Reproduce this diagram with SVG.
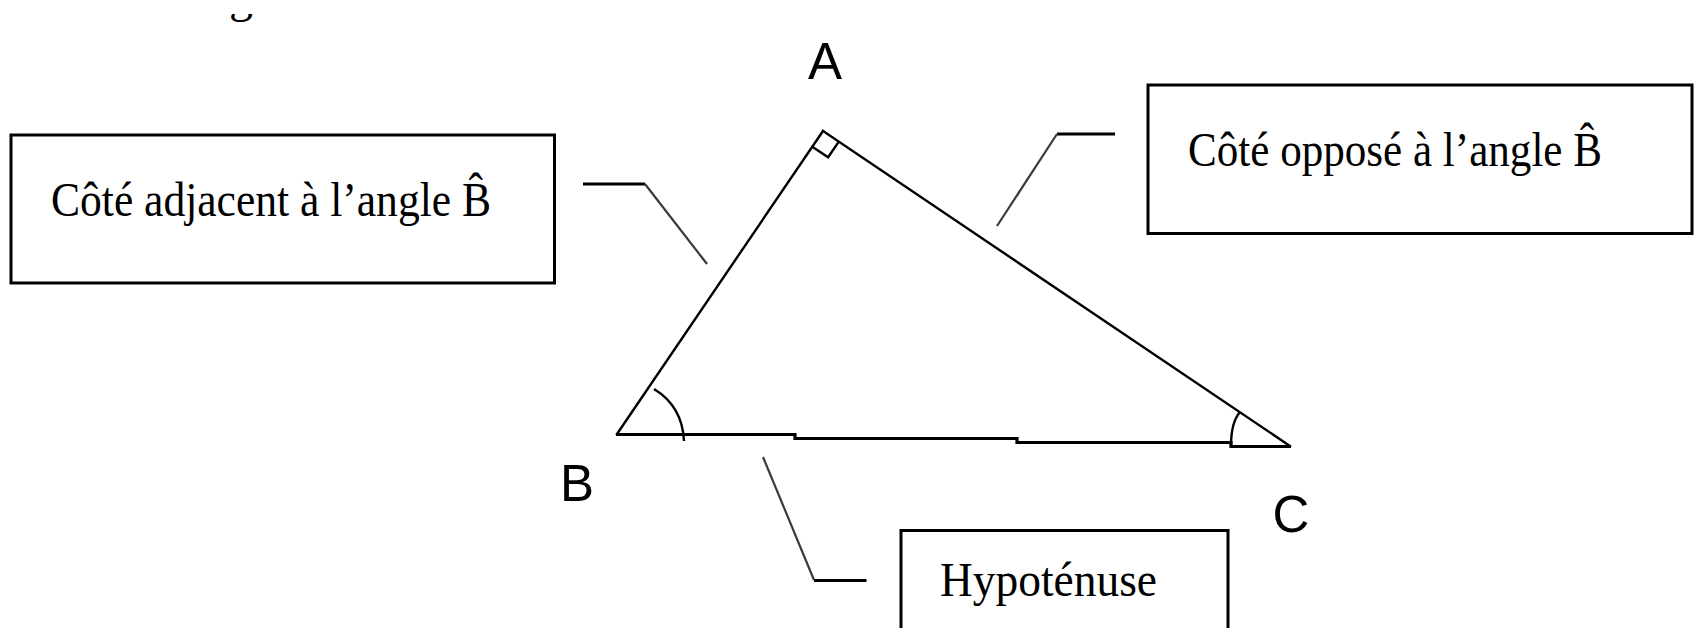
<svg xmlns="http://www.w3.org/2000/svg" width="1696" height="628" viewBox="0 0 1696 628">
<style>
.box{fill:#fff;stroke:#000;stroke-width:3}
.lbl{font-family:"Liberation Serif","Times New Roman",serif;font-size:48px;fill:#000}
.pt{font-family:"Liberation Sans",Arial,sans-serif;font-size:51px;fill:#000;text-anchor:middle}
.tri{fill:none;stroke:#000;stroke-width:2.4;stroke-linecap:square}
.base{fill:none;stroke:#000;stroke-width:3.2}
.mark{fill:none;stroke:#000;stroke-width:2.4}
.lead-h{fill:none;stroke:#000;stroke-width:3}
.lead-d{fill:none;stroke:#3a3a3a;stroke-width:2.2}
</style>
<defs>
<clipPath id="clipg"><rect x="200" y="14" width="80" height="20"/></clipPath>
</defs>
<rect width="1696" height="628" fill="#fff"/>
<text class="lbl" x="229" y="12" clip-path="url(#clipg)">g</text>

<g id="triangle">
<line class="tri" x1="823" y1="131" x2="617" y2="434"/>
<line class="tri" x1="823" y1="131" x2="1290" y2="446"/>
<polyline class="base" points="616,434.5 795,434.5 795,438.5 1017,438.5 1017,442.5 1231,442.5 1231,446.5 1291,446.5"/>
<polyline class="mark" points="812.3,146.7 828.1,157.3 838.8,141.6"/>
<path class="mark" d="M 654 389 C 672 400 683 418 684 441"/>
<path class="mark" d="M 1231 446 C 1231 432 1233 420 1240 412"/>
</g>

<g id="vertex-A"><text class="pt" x="825" y="79">A</text></g>
<g id="vertex-B"><text class="pt" x="577" y="501">B</text></g>
<g id="vertex-C"><text class="pt" x="1291" y="532">C</text></g>

<g id="box-adjacent">
<rect class="box" x="11" y="135" width="543.5" height="148"/>
<text class="lbl" x="51" y="216" textLength="440" lengthAdjust="spacingAndGlyphs">Côté adjacent à l’angle B̂</text>
</g>

<g id="box-oppose">
<rect class="box" x="1148" y="85" width="544" height="148.5"/>
<text class="lbl" x="1188" y="166" textLength="414" lengthAdjust="spacingAndGlyphs">Côté opposé à l’angle B̂</text>
</g>

<g id="box-hypotenuse">
<rect class="box" x="901" y="530.5" width="327" height="120"/>
<text class="lbl" x="940" y="596" textLength="217" lengthAdjust="spacingAndGlyphs">Hypoténuse</text>
</g>

<g id="connectors">
<line class="lead-h" x1="583" y1="184" x2="645" y2="184"/>
<line class="lead-d" x1="645" y1="184" x2="707" y2="264"/>
<line class="lead-h" x1="1057" y1="134" x2="1115" y2="134"/>
<line class="lead-d" x1="1057" y1="134" x2="997" y2="226"/>
<line class="lead-d" x1="763" y1="457" x2="814" y2="580"/>
<line class="lead-h" x1="814" y1="580.5" x2="866.5" y2="580.5"/>
</g>
</svg>
